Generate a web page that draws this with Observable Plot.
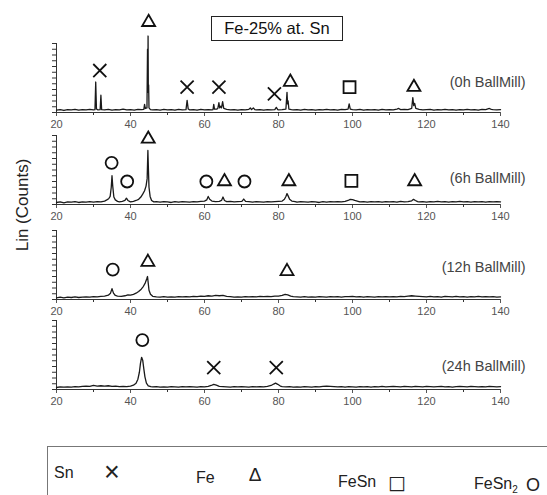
<!DOCTYPE html>
<html>
<head>
<meta charset="utf-8">
<script src="https://cdn.jsdelivr.net/npm/d3@7"></script>
<script src="https://cdn.jsdelivr.net/npm/@observablehq/plot@0.6"></script>
<style>
  body { margin: 0; background: #fff; }
  #wrap { position: relative; width: 547px; height: 495px; overflow: hidden; background: #fff;
          font-family: "Liberation Sans", Arial, sans-serif; color: #111; }
  .abs { position: absolute; }
  .panel { position: absolute; left: 0; }
  .c { transform: translate(-50%, -50%); white-space: nowrap; }
  .l { transform: translate(0, -50%); white-space: nowrap; }
</style>
</head>
<body>
<div id="wrap"></div>
<script>
// ---------- data ----------
const title = "Fe-25% at. Sn";
const yLabel = "Lin (Counts)";
const panelLabels = ["(0h BallMill)", "(6h BallMill)", "(12h BallMill)", "(24h BallMill)"];
const xMajor = [20, 40, 60, 80, 100, 120, 140];
const xMinor = [30, 50, 70, 90, 110, 130];
const yTicks = [0, 1, 2, 3, 4, 5, 6, 7, 8, 9, 10, 11, 12];
const phases = ["Sn", "Fe", "FeSn", "FeSn2"];

// scans: [2θ, intensity (arbitrary units)]
const scan0h = [[20,0.4],[21,0.5],[22,0.35],[23,0.5],[24,0.45],[25,0.55],[26,0.4],[27,0.5],[28,0.45],[29,0.55],[30,0.45],[30.4,0.5],[30.6,5.3],[30.8,0.6],[31.2,0.45],[31.8,0.5],[32.0,3.0],[32.2,0.5],[33,0.45],[34,0.55],[35,0.4],[36,0.5],[37,0.45],[38,0.6],[39,0.45],[40,0.5],[41,0.4],[42,0.55],[43,0.5],[43.6,0.55],[43.8,1.4],[44.0,0.7],[44.45,0.8],[44.6,11.0],[44.7,4.0],[44.75,13.3],[44.82,3.5],[44.9,4.8],[45.0,0.8],[45.4,0.5],[46,0.45],[47,0.5],[48,0.4],[49,0.55],[50,0.45],[51,0.5],[52,0.4],[53,0.55],[54,0.45],[55.0,0.5],[55.3,2.1],[55.6,0.6],[56,0.45],[57,0.5],[58,0.4],[59,0.55],[60,0.45],[61,0.5],[62,0.45],[62.3,0.5],[62.5,1.4],[62.7,0.6],[63.3,0.6],[63.6,0.7],[63.9,1.7],[64.1,0.8],[64.4,1.1],[64.6,0.8],[64.9,1.9],[65.2,0.7],[66,0.55],[67,0.45],[68,0.5],[69,0.4],[70,0.5],[71,0.45],[72,0.55],[72.4,0.8],[72.7,0.5],[73.2,0.8],[73.6,0.5],[74,0.45],[75,0.5],[76,0.4],[77,0.5],[78,0.45],[79,0.5],[79.4,0.9],[79.8,0.5],[80,0.45],[81,0.5],[82.0,0.6],[82.3,3.5],[82.45,1.5],[82.6,2.0],[82.8,0.6],[83.5,0.5],[84,0.45],[85,0.5],[86,0.4],[87,0.55],[88,0.45],[89,0.5],[90,0.4],[91,0.5],[92,0.45],[93,0.55],[94,0.45],[95,0.5],[96,0.4],[97,0.55],[98,0.5],[98.8,0.6],[99.1,1.5],[99.4,0.6],[100,0.5],[101,0.45],[102,0.55],[103,0.4],[104,0.5],[105,0.45],[106,0.5],[107,0.4],[108,0.55],[109,0.45],[110,0.5],[111,0.45],[112,0.6],[112.5,0.7],[113,0.5],[114,0.55],[115,0.5],[116,0.7],[116.3,2.6],[116.55,1.2],[116.8,1.6],[117.1,0.7],[118,0.55],[119,0.45],[120,0.5],[121,0.55],[122,0.4],[123,0.5],[124,0.45],[125,0.55],[126,0.45],[127,0.5],[128,0.4],[129,0.5],[130,0.45],[131,0.55],[132,0.45],[133,0.5],[134,0.4],[135,0.55],[136,0.5],[137,0.7],[137.5,0.55],[138,0.5],[139,0.45],[140,0.5]];
const scan6h = [[20,0.35],[21,0.45],[22,0.3],[23,0.45],[24,0.4],[25,0.5],[26,0.35],[27,0.45],[28,0.4],[29,0.5],[30,0.4],[31,0.5],[32,0.45],[33,0.6],[33.6,0.8],[34.1,1.0],[34.5,1.4],[34.8,3.0],[35.0,5.0],[35.2,3.2],[35.5,1.3],[35.9,0.8],[36.5,0.55],[37,0.45],[37.8,0.55],[38.5,0.7],[38.9,1.1],[39.3,0.7],[40,0.45],[40.8,0.55],[41.5,0.7],[42.2,0.9],[42.8,1.3],[43.3,1.8],[43.8,2.4],[44.2,3.2],[44.5,4.5],[44.7,9.4],[44.85,6.0],[45.0,3.0],[45.3,1.4],[45.7,0.7],[46.3,0.45],[47,0.5],[48,0.4],[49,0.5],[50,0.45],[51,0.35],[52,0.5],[53,0.4],[54,0.5],[55,0.45],[56,0.4],[57,0.5],[58,0.45],[59,0.55],[60,0.6],[60.6,0.8],[61.0,1.4],[61.4,0.9],[62,0.6],[63,0.5],[64,0.55],[64.6,0.7],[65.0,1.3],[65.4,0.7],[66,0.5],[67,0.55],[68,0.45],[69,0.5],[70.1,0.55],[70.6,0.95],[71.1,0.55],[72,0.5],[73,0.4],[74,0.5],[75,0.45],[76,0.4],[77,0.5],[78,0.45],[79,0.5],[80,0.55],[81,0.6],[81.6,0.9],[82.0,1.4],[82.3,1.9],[82.6,1.5],[83.0,0.9],[83.6,0.6],[84.5,0.5],[85,0.4],[86,0.5],[87,0.45],[88,0.4],[89,0.5],[90,0.45],[91,0.35],[92,0.5],[93,0.4],[94,0.5],[95,0.45],[96,0.5],[97,0.45],[98,0.55],[98.8,0.7],[99.4,0.9],[100,0.85],[100.6,0.7],[101.5,0.55],[102,0.45],[103,0.5],[104,0.4],[105,0.5],[106,0.45],[107,0.5],[108,0.4],[109,0.5],[110,0.45],[111,0.5],[112,0.4],[113,0.55],[114,0.45],[115,0.5],[116,0.65],[116.5,0.9],[117,0.7],[117.6,0.5],[118,0.45],[119,0.5],[120,0.4],[121,0.5],[122,0.45],[123,0.55],[124,0.45],[125,0.5],[126,0.4],[127,0.5],[128,0.45],[129,0.55],[130,0.45],[131,0.5],[132,0.4],[133,0.5],[134,0.45],[135,0.5],[136,0.4],[137,0.5],[138,0.45],[139,0.5],[140,0.45]];
const scan12h = [[20,0.3],[21,0.4],[22,0.3],[23,0.4],[24,0.35],[25,0.45],[26,0.35],[27,0.4],[28,0.45],[29,0.4],[30,0.5],[31,0.45],[32,0.55],[33,0.6],[34,0.75],[34.6,1.1],[35.0,1.9],[35.4,1.1],[35.9,0.7],[36.5,0.6],[37.5,0.55],[38.5,0.65],[39.3,0.8],[40,0.75],[40.8,0.9],[41.5,1.1],[42.2,1.4],[42.9,1.8],[43.5,2.3],[44.0,2.9],[44.4,3.6],[44.6,4.0],[44.8,2.8],[45.0,1.6],[45.4,0.9],[46,0.55],[47,0.45],[48,0.4],[49,0.5],[50,0.4],[51,0.45],[52,0.4],[53,0.5],[54,0.45],[55,0.5],[56,0.45],[57,0.55],[58,0.5],[59,0.6],[60,0.55],[61,0.65],[62,0.6],[63,0.7],[64,0.65],[65,0.7],[66,0.55],[67,0.5],[68,0.4],[69,0.45],[70,0.4],[71,0.5],[72,0.45],[73,0.5],[74,0.45],[75,0.55],[76,0.5],[77,0.55],[78,0.5],[79,0.6],[80,0.6],[81,0.7],[81.8,0.9],[82.5,0.8],[83.3,0.6],[84,0.5],[85,0.45],[86,0.4],[87,0.5],[88,0.4],[89,0.45],[90,0.4],[91,0.5],[92,0.45],[93,0.4],[94,0.5],[95,0.45],[96,0.5],[97,0.4],[98,0.5],[99,0.5],[100,0.55],[101,0.45],[102,0.5],[103,0.4],[104,0.5],[105,0.45],[106,0.4],[107,0.5],[108,0.45],[109,0.5],[110,0.45],[111,0.5],[112,0.45],[113,0.55],[114,0.5],[115,0.6],[116,0.65],[117,0.6],[118,0.55],[119,0.5],[120,0.45],[121,0.55],[122,0.45],[123,0.5],[124,0.4],[125,0.55],[126,0.5],[127,0.45],[128,0.55],[129,0.45],[130,0.5],[131,0.4],[132,0.5],[133,0.45],[134,0.55],[135,0.45],[136,0.5],[137,0.45],[138,0.5],[139,0.4],[140,0.45]];
const scan24h = [[20,0.35],[21,0.45],[22,0.4],[23,0.45],[24,0.4],[25,0.5],[26,0.45],[27,0.55],[28,0.6],[29,0.55],[30,0.7],[31,0.6],[32,0.65],[33,0.6],[34,0.65],[35,0.55],[36,0.6],[37,0.5],[38,0.55],[39,0.5],[40,0.6],[40.8,0.75],[41.5,1.1],[42.0,1.8],[42.4,3.0],[42.7,4.6],[43.0,5.6],[43.3,5.1],[43.6,3.6],[43.9,2.2],[44.3,1.1],[44.8,0.65],[45.5,0.5],[46,0.45],[47,0.5],[48,0.4],[49,0.45],[50,0.4],[51,0.5],[52,0.45],[53,0.4],[54,0.5],[55,0.45],[56,0.5],[57,0.45],[58,0.4],[59,0.5],[60,0.45],[61,0.55],[61.8,0.7],[62.5,0.9],[63.2,0.75],[64,0.55],[65,0.5],[66,0.45],[67,0.4],[68,0.5],[69,0.45],[70,0.5],[71,0.45],[72,0.4],[73,0.5],[74,0.45],[75,0.5],[76,0.45],[77,0.55],[78,0.7],[78.7,0.95],[79.2,1.1],[79.8,0.9],[80.5,0.6],[81,0.5],[82,0.45],[83,0.5],[84,0.4],[85,0.45],[86,0.4],[87,0.5],[88,0.45],[89,0.4],[90,0.5],[91,0.45],[92,0.55],[93,0.6],[94,0.55],[95,0.5],[96,0.45],[97,0.5],[98,0.4],[99,0.5],[100,0.45],[101,0.4],[102,0.5],[103,0.45],[104,0.5],[105,0.4],[106,0.5],[107,0.45],[108,0.55],[109,0.45],[110,0.5],[111,0.55],[112,0.5],[113,0.45],[114,0.55],[115,0.5],[116,0.45],[117,0.55],[118,0.5],[119,0.45],[120,0.55],[121,0.5],[122,0.45],[123,0.5],[124,0.55],[125,0.45],[126,0.5],[127,0.4],[128,0.5],[129,0.55],[130,0.5],[131,0.45],[132,0.55],[133,0.5],[134,0.45],[135,0.5],[136,0.45],[137,0.55],[138,0.5],[139,0.45],[140,0.5]];

// peak markers: [phase, 2θ, height]
const marks0h = [["Sn",31.7,7.3],["Fe",44.9,15.7],["Sn",55.3,4.4],["Sn",63.9,4.4],["Sn",78.9,3.25],["Fe",83.2,5.3],["FeSn",99.2,4.4],["Fe",116.6,4.4]];
const marks6h = [["FeSn2",34.9,7.25],["FeSn2",39.1,4.0],["Fe",44.8,11.4],["FeSn2",60.5,4.0],["Fe",65.4,4.0],["FeSn2",70.8,4.0],["Fe",82.8,4.0],["FeSn",99.7,4.1],["Fe",116.8,4.0]];
const marks12h = [["FeSn2",35.2,5.2],["Fe",44.7,6.5],["Fe",82.3,4.9]];
const marks24h = [["FeSn2",43.2,8.6],["Sn",62.5,3.8],["Sn",79.4,3.8]];

// ---------- layout / style ----------
const symbolRange = ["times", "triangle2", "square2", "circle"];
const symR = {Sn: 6, Fe: 6.2, FeSn: 7.6, FeSn2: 6};
const FONT = '"Liberation Sans", Arial, sans-serif';
const panels = [
  {scan: scan0h, marks: marks0h, label: panelLabels[0], ly: 5.2, top: 0,   height: 130, mt: 43},
  {scan: scan6h, marks: marks6h, label: panelLabels[1], ly: 4.6, top: 130, height: 92,  mt: 5},
  {scan: scan12h, marks: marks12h, label: panelLabels[2], ly: 5.6, top: 222, height: 95, mt: 8},
  {scan: scan24h, marks: marks24h, label: panelLabels[3], ly: 4.0, top: 317, height: 90, mt: 3}
];

const wrap = document.getElementById("wrap");

for (const p of panels) {
  const fig = Plot.plot({
    width: 547, height: p.height,
    marginLeft: 56, marginRight: 47, marginTop: p.mt, marginBottom: 18,
    x: {domain: [20, 140]},
    y: {domain: [0, 12]},
    symbol: {domain: phases, range: symbolRange},
    r: {type: "identity"},
    style: {background: "transparent", fontFamily: FONT, overflow: "visible"},
    marks: [
      Plot.axisY(yTicks, {tickSize: 4, tickFormat: () => "", label: null, color: "#333"}),
      Plot.ruleX([20], {y1: 0, y2: 12, stroke: "#333"}),
      Plot.axisX(xMinor, {tickSize: 3, tickFormat: () => "", label: null, color: "#333"}),
      Plot.axisX(xMajor, {tickSize: 4, tickPadding: 4, fontSize: 11, label: null, color: "#555"}),
      Plot.ruleY([0], {stroke: "#333"}),
      Plot.line(p.scan, {x: d => d[0], y: d => d[1], stroke: "#1a1a1a", strokeWidth: 1.3}),
      Plot.dot(p.marks, {x: d => d[1], y: d => d[2], symbol: d => d[0], r: d => symR[d[0]],
                         stroke: "#111", strokeWidth: 1.8, fill: "none"}),
      Plot.text([p.label], {x: 140, y: p.ly, dx: 25, textAnchor: "end", fontSize: 14.5, fill: "#444"})
    ]
  });
  const div = document.createElement("div");
  div.className = "panel";
  div.style.top = p.top + "px";
  div.appendChild(fig);
  wrap.appendChild(div);
}

function addText(txt, x, y, cls, css) {
  const s = document.createElement("div");
  s.className = "abs " + cls;
  s.style.left = x + "px";
  s.style.top = y + "px";
  Object.assign(s.style, css || {});
  s.innerHTML = txt;
  wrap.appendChild(s);
  return s;
}

// title box
addText(title, 211, 16, "", {width: "132px", height: "25px", border: "1px solid #222",
  textAlign: "center", lineHeight: "23px", fontSize: "16.5px", boxSizing: "border-box", background: "#fff"});

// y label
addText(yLabel, 23, 205, "c", {transform: "translate(-50%,-50%) rotate(-90deg)", fontSize: "17px", color: "#222"});

// legend box
addText("", 47, 446, "", {width: "560px", height: "80px", border: "1px solid #777"});
const lg = {fontSize: "16px", color: "#222"};
addText("Sn", 54, 473, "l", lg);
addText("×", 112, 472, "c", {fontSize: "27px", color: "#222"});
addText("Fe", 196, 478, "l", lg);
addText("Δ", 255, 475, "c", {fontSize: "19px", color: "#222"});
addText("FeSn", 338, 482, "l", lg);
addText("□", 397, 482, "c", {fontSize: "19px", color: "#222", fontFamily: '"DejaVu Sans", sans-serif'});
addText("FeSn<sub style='font-size:10px'>2</sub>", 474, 485, "l", lg);
addText("O", 533, 485, "c", {fontSize: "18px", color: "#222"});
</script>
</body>
</html>
